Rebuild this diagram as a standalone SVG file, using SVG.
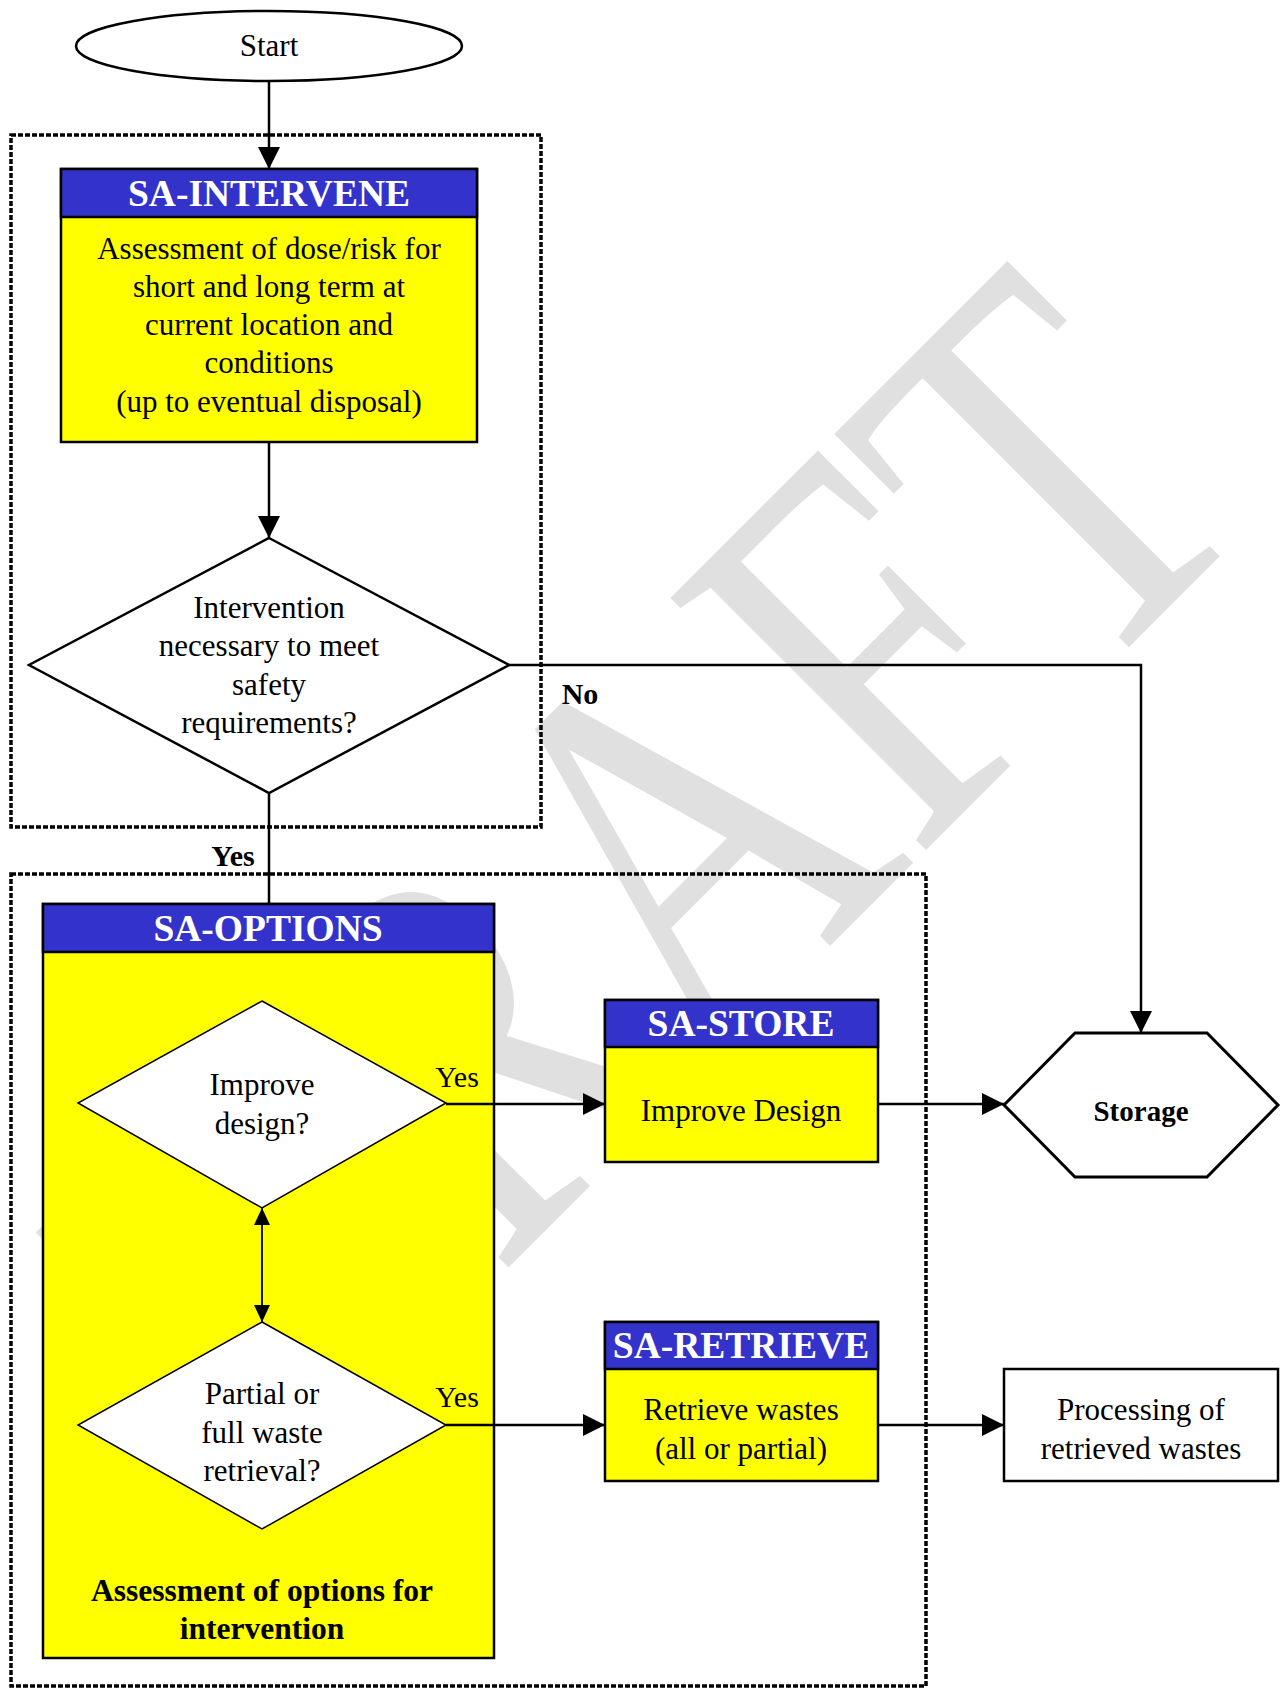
<svg xmlns="http://www.w3.org/2000/svg" width="1281" height="1688" viewBox="0 0 1281 1688">
  <style>
    text { font-family: "Liberation Serif", "Times New Roman", Times, "DejaVu Serif", serif; }
    .t { font-size: 31px; fill: #000; text-anchor: middle; }
    .tb { font-size: 31.5px; font-weight: bold; fill: #000; text-anchor: middle; }
    .h { font-size: 37.5px; font-weight: bold; fill: #fff; text-anchor: middle; }
    .lbl { font-size: 30px; fill: #000; text-anchor: middle; }
    .box { stroke: #000; stroke-width: 2.5; }
    .yel { fill: #ffff00; }
    .blu { fill: #3333cc; }
    .dot { fill: none; stroke: #000; stroke-width: 3.5; stroke-dasharray: 5 2; }
    .c { fill: none; stroke: #000; stroke-width: 2.5; }
    .thin { fill: none; stroke: #000; stroke-width: 1.8; }
    .wm { font-size: 425px; fill: #e0e0e0; }
  </style>
  <defs>
    <marker id="arr" markerUnits="userSpaceOnUse" markerWidth="23" markerHeight="22" refX="22" refY="11" orient="auto">
      <path d="M0,0 L22,11 L0,22 z" fill="#000"/>
    </marker>
    <marker id="arrS" markerUnits="userSpaceOnUse" markerWidth="18" markerHeight="16" refX="17" refY="8" orient="auto-start-reverse">
      <path d="M0,0 L17,8 L0,16 z" fill="#000"/>
    </marker>
  </defs>

  <rect width="1281" height="1688" fill="#fff"/>

  <!-- watermark, stretched across the page diagonal -->
  <g transform="translate(281 1495) rotate(-45) scale(1 1.29)">
    <text class="wm" x="0" y="0">DRAFT</text>
  </g>

  <!-- grouping frames -->
  <g id="frames">
    <rect class="dot" x="11" y="135" width="530" height="692"/>
    <rect class="dot" x="11" y="874" width="915" height="812"/>
  </g>

  <g id="start">
    <ellipse cx="269" cy="46" rx="193" ry="35" fill="#fff" stroke="#000" stroke-width="2.5"/>
    <text class="t" x="269" y="56">Start</text>
  </g>

  <g id="sa-intervene">
    <rect class="box yel" x="61" y="169" width="416" height="273"/>
    <rect class="box blu" x="61" y="169" width="416" height="48"/>
    <text class="h" x="269" y="206">SA-INTERVENE</text>
    <text class="t" x="269" y="259">Assessment of dose/risk for</text>
    <text class="t" x="269" y="297">short and long term at</text>
    <text class="t" x="269" y="335">current location and</text>
    <text class="t" x="269" y="373">conditions</text>
    <text class="t" x="269" y="412">(up to eventual disposal)</text>
  </g>

  <g id="decision-intervention">
    <polygon points="269,538 509,665 269,793 29,665" fill="#fff" stroke="#000" stroke-width="2.5"/>
    <text class="t" x="269" y="618">Intervention</text>
    <text class="t" x="269" y="656">necessary to meet</text>
    <text class="t" x="269" y="695">safety</text>
    <text class="t" x="269" y="733">requirements?</text>
  </g>

  <g id="sa-options">
    <rect class="box yel" x="43" y="904" width="451" height="754"/>
    <rect class="box blu" x="43" y="904" width="451" height="48"/>
    <text class="h" x="268" y="941">SA-OPTIONS</text>
    <text class="tb" x="262" y="1601">Assessment of options for</text>
    <text class="tb" x="262" y="1639">intervention</text>
  </g>

  <g id="decision-design">
    <polygon points="262,1001 446,1103 262,1208 78,1103" fill="#fff" stroke="#000" stroke-width="1.5"/>
    <text class="t" x="262" y="1095">Improve</text>
    <text class="t" x="262" y="1134">design?</text>
  </g>

  <g id="decision-retrieval">
    <polygon points="262,1322 446,1425 262,1529 78,1425" fill="#fff" stroke="#000" stroke-width="1.5"/>
    <text class="t" x="262" y="1404">Partial or</text>
    <text class="t" x="262" y="1443">full waste</text>
    <text class="t" x="262" y="1481">retrieval?</text>
  </g>

  <g id="sa-store">
    <rect class="box yel" x="605" y="1000" width="273" height="162"/>
    <rect class="box blu" x="605" y="1000" width="273" height="47"/>
    <text class="h" x="741" y="1036">SA-STORE</text>
    <text class="t" x="741" y="1121">Improve Design</text>
  </g>

  <g id="storage">
    <polygon points="1004,1105 1075,1033 1207,1033 1278,1105 1207,1177 1075,1177" fill="#fff" stroke="#000" stroke-width="3"/>
    <text class="tb" x="1141" y="1121" style="font-size:29px">Storage</text>
  </g>

  <g id="sa-retrieve">
    <rect class="box yel" x="605" y="1322" width="273" height="159"/>
    <rect class="box blu" x="605" y="1322" width="273" height="47"/>
    <text class="h" x="741" y="1358">SA-RETRIEVE</text>
    <text class="t" x="741" y="1420">Retrieve wastes</text>
    <text class="t" x="741" y="1459">(all or partial)</text>
  </g>

  <g id="processing">
    <rect class="box" x="1004" y="1369" width="274" height="112" fill="#fff"/>
    <text class="t" x="1141" y="1420">Processing of</text>
    <text class="t" x="1141" y="1459">retrieved wastes</text>
  </g>

  <g id="connectors">
    <line class="c" x1="269" y1="81" x2="269" y2="169" marker-end="url(#arr)"/>
    <line class="c" x1="269" y1="442" x2="269" y2="538" marker-end="url(#arr)"/>
    <polyline class="c" points="509,665 1141,665 1141,1033" marker-end="url(#arr)"/>
    <line class="c" x1="269" y1="793" x2="269" y2="904"/>
    <line class="c" x1="446" y1="1104" x2="605" y2="1104" marker-end="url(#arr)"/>
    <line class="c" x1="878" y1="1104" x2="1004" y2="1104" marker-end="url(#arr)"/>
    <line class="thin" x1="262" y1="1208" x2="262" y2="1322" marker-start="url(#arrS)" marker-end="url(#arrS)"/>
    <line class="c" x1="446" y1="1425" x2="605" y2="1425" marker-end="url(#arr)"/>
    <line class="c" x1="878" y1="1425" x2="1004" y2="1425" marker-end="url(#arr)"/>
  </g>

  <g id="connector-labels">
    <text class="tb" x="580" y="704" style="font-size:30px">No</text>
    <text class="tb" x="233" y="866" style="font-size:30px">Yes</text>
    <text class="lbl" x="457" y="1087">Yes</text>
    <text class="lbl" x="457" y="1407">Yes</text>
  </g>
</svg>
